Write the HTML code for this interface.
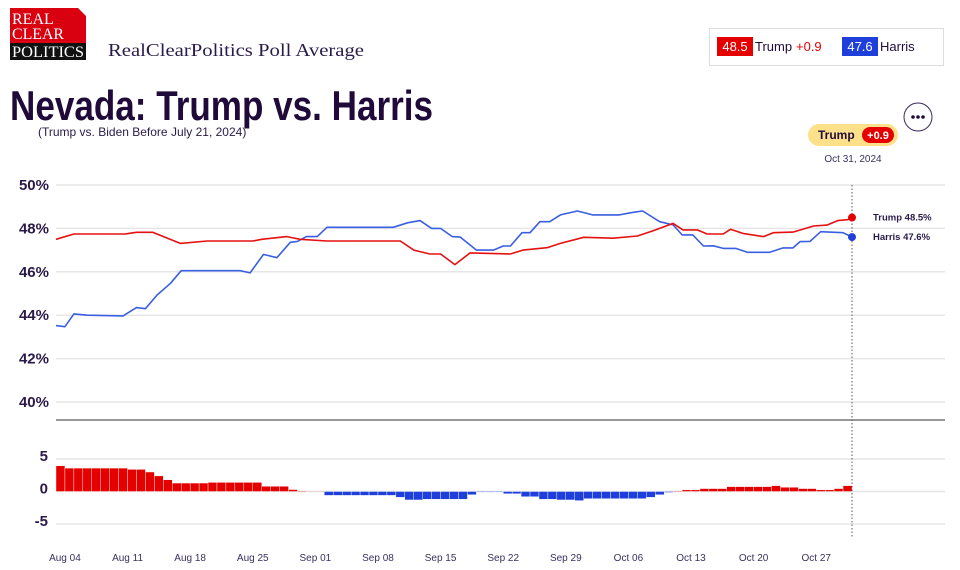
<!DOCTYPE html>
<html><head><meta charset="utf-8"><style>
html,body{margin:0;padding:0;background:#fff;width:960px;height:570px;overflow:hidden}
svg{display:block}
text{font-family:"Liberation Sans",Arial,sans-serif}
text.serif{font-family:"Liberation Serif","Times New Roman",serif}
</style></head><body>
<svg id="chart" width="960" height="570" viewBox="0 0 960 570">
  <g>
    <rect x="10" y="8" width="76" height="52" fill="#d90010"/>
    <polygon points="78,8 86,16 86,8" fill="#fff"/>
    <rect x="10" y="43" width="76" height="17" fill="#111"/>
    <text class="serif" x="12" y="24" font-size="16" fill="#fff">REAL</text>
    <text class="serif" x="12" y="39" font-size="16" fill="#fff" textLength="52" lengthAdjust="spacingAndGlyphs">CLEAR</text>
    <text class="serif" x="12" y="57" font-size="16" fill="#fff" textLength="72" lengthAdjust="spacingAndGlyphs">POLITICS</text>
  </g>
  <text class="serif" x="108" y="56" font-size="18" fill="#2a1a4a" textLength="256" lengthAdjust="spacingAndGlyphs">RealClearPolitics Poll Average</text>
  <text x="10" y="120" font-size="42" font-weight="bold" fill="#1f0a3a" textLength="423" lengthAdjust="spacingAndGlyphs">Nevada: Trump vs. Harris</text>
  <text x="38" y="136" font-size="12" fill="#2a1a4a">(Trump vs. Biden Before July 21, 2024)</text>

  <g>
    <rect x="709.5" y="28.5" width="234" height="37" fill="#fff" stroke="#ddd"/>
    <g>
      <rect x="717" y="37" width="36" height="19" fill="#e50000"/>
      <text x="735" y="51" font-size="13" fill="#fff" text-anchor="middle">48.5</text>
      <text x="755" y="51" font-size="13" fill="#1f0a3a">Trump</text>
      <text x="796" y="51" font-size="13" fill="#e50000">+0.9</text>
    </g>
    <g>
      <rect x="842" y="37" width="36" height="19" fill="#1f3fdb"/>
      <text x="860" y="51" font-size="13" fill="#fff" text-anchor="middle">47.6</text>
      <text x="880" y="51" font-size="13" fill="#1f0a3a">Harris</text>
    </g>
  </g>
  <g>
    <circle cx="918" cy="117" r="14" fill="#fff" stroke="#3a2a5a" stroke-width="1"/>
    <circle cx="913" cy="117" r="1.8" fill="#1f0a3a"/><circle cx="918" cy="117" r="1.8" fill="#1f0a3a"/><circle cx="923" cy="117" r="1.8" fill="#1f0a3a"/>
  </g>
  <g>
    <rect x="808" y="124" width="90" height="22" rx="11" fill="#fde08a"/>
    <text x="818" y="139" font-size="12" font-weight="bold" fill="#1f0a3a">Trump</text>
    <rect x="862" y="127" width="32" height="16" rx="8" fill="#e50000"/>
    <text x="878" y="139" font-size="11" font-weight="bold" fill="#fff" text-anchor="middle">+0.9</text>
  </g>
  <text x="853" y="162" font-size="10" fill="#3a3060" text-anchor="middle">Oct 31, 2024</text>
  <g id="plot"></g>
</svg>
<script>
// ---- data (day offsets from Aug 03, 2024) ----
const trumpDays = [0,2,7.7,9,10.8,13.9,16.9,22,23,25.8,27.3,30.3,38.5,40,41.8,43,44.6,46.3,50.8,52.2,54.9,56.4,59,62.3,65,66.8,69,70.1,71.7,72.8,74.6,75.4,76.8,79.1,80.2,82.4,84.7,86.2,87.4,88.5,89];
const trumpVals = [47.5,47.74,47.74,47.82,47.82,47.31,47.42,47.42,47.5,47.62,47.5,47.42,47.42,47.0,46.82,46.82,46.33,46.87,46.82,47.0,47.11,47.31,47.59,47.55,47.65,47.9,48.23,47.93,47.93,47.74,47.74,47.96,47.77,47.62,47.8,47.83,48.11,48.15,48.36,48.4,48.5];
const harrisDays = [0,1,2,3.5,7.5,9,10,11.3,12.8,14,20.6,21.7,23.2,24.7,26.2,27,28,29.2,30.3,37.7,39.3,40.7,42,43,44.3,45.2,47,48.9,50,50.8,52.1,53,54.1,55.2,56.4,58.3,60,63,64.2,65.6,67.5,69,70,71.2,72.4,73.5,74.6,76,77.3,79.8,81.3,82.4,83.2,84.3,85.5,88,89];
const harrisVals = [43.52,43.47,44.06,44.0,43.97,44.35,44.3,44.93,45.47,46.05,46.05,45.95,46.8,46.65,47.36,47.4,47.62,47.62,48.05,48.05,48.26,48.36,48.0,48.0,47.62,47.6,47.0,47.0,47.19,47.19,47.8,47.8,48.31,48.31,48.62,48.8,48.62,48.62,48.72,48.8,48.31,48.16,47.7,47.7,47.19,47.2,47.08,47.08,46.9,46.9,47.1,47.1,47.39,47.4,47.85,47.8,47.6];
const spreadVals = [3.95,3.6,3.6,3.6,3.6,3.6,3.6,3.6,3.4,3.4,3.0,2.4,1.8,1.3,1.3,1.3,1.3,1.4,1.4,1.4,1.4,1.4,1.4,0.8,0.8,0.8,0.3,0.1,0,0,-0.6,-0.6,-0.6,-0.6,-0.6,-0.6,-0.6,-0.6,-0.9,-1.3,-1.3,-1.2,-1.2,-1.2,-1.2,-1.2,-0.5,-0.1,-0.1,-0.1,-0.35,-0.35,-0.8,-0.8,-1.2,-1.2,-1.3,-1.3,-1.4,-1.1,-1.1,-1.1,-1.1,-1.1,-1.1,-1.1,-0.9,-0.5,-0.15,0.1,0.25,0.25,0.45,0.45,0.45,0.75,0.75,0.75,0.75,0.75,0.9,0.65,0.65,0.45,0.45,0.25,0.25,0.45,0.9];
const yTicks = [40,42,44,46,48,50];
const spreadTicks = [5,0,-5];
const xTickLabels = ["Aug 04","Aug 11","Aug 18","Aug 25","Sep 01","Sep 08","Sep 15","Sep 22","Sep 29","Oct 06","Oct 13","Oct 20","Oct 27"];
const xTickDays = [1,8,15,22,29,36,43,50,57,64,71,78,85];
const endDay = 89;

// ---- scales ----
const X0=56, X1=945, DAYPX=8.944;
const xs = d => X0 + d*DAYPX;
const ys = v => 185 + (50-v)*21.7;
const ss = v => 491.5 - v*6.5;
const NS="http://www.w3.org/2000/svg";
const plot=document.getElementById('plot');
function mk(tag,attrs,parent){const e=document.createElementNS(NS,tag);for(const k in attrs)e.setAttribute(k,attrs[k]);(parent||plot).appendChild(e);return e;}

yTicks.forEach(t=>{
  const g=mk('line',{x1:X0,x2:X1,y1:ys(t),y2:ys(t),stroke:'#e6e6e6','stroke-width':1.5});
  
  
  const l=mk('text',{x:49,y:ys(t)+5,'text-anchor':'end','font-size':15,'font-weight':'bold',fill:'#2a1a4a'});
  l.textContent=t+'%';
  
  
});
const sep=mk('line',{x1:X0,x2:X1,y1:420,y2:420,stroke:'#777','stroke-width':1.5});


spreadTicks.forEach(t=>{
  const g=mk('line',{x1:X0,x2:X1,y1:ss(t),y2:ss(t),stroke:'#e6e6e6','stroke-width':1.5});
  
  
  const l=mk('text',{x:48,y:ss(t)+2,'text-anchor':'end','font-size':15,'font-weight':'bold',fill:'#2a1a4a'});
  l.textContent=String(t);
  
  
});

// spread bars
spreadVals.forEach((v,i)=>{
  const h=Math.max(Math.abs(ss(v)-ss(0)),0.8);
  const b=mk('rect',{x:xs(i),y:v>=0?ss(0)-h:ss(0),width:DAYPX,height:h,fill:v>=0?'#e50000':'#1f3fdb',stroke:'#fff','stroke-width':0.4,opacity:v===0?0.3:1});
  
  
});

// lines
function line(days,vals,color,name){
  const d=days.map((dd,i)=>(i?'L':'M')+xs(dd).toFixed(1)+','+ys(vals[i]).toFixed(1)).join(' ');
  const p=mk('path',{d:d,fill:'none',stroke:color,'stroke-width':1.6,'stroke-linejoin':'round'});
  
  
}
line(harrisDays,harrisVals,'#3a5fe0','harris-line');
line(trumpDays,trumpVals,'#e51010','trump-line');

// hover line
const hl=mk('line',{x1:xs(endDay),x2:xs(endDay),y1:185,y2:537,stroke:'#555','stroke-width':1,'stroke-dasharray':'1.5,2'});



const tLast=trumpVals[trumpVals.length-1], hLast=harrisVals[harrisVals.length-1];
const td=mk('circle',{cx:xs(endDay),cy:ys(tLast),r:4,fill:'#e50000'});


const hd=mk('circle',{cx:xs(endDay),cy:ys(hLast),r:4,fill:'#1f3fdb'});


const tl=mk('text',{x:873,y:ys(tLast)+3,'font-size':9.5,'font-weight':'bold',fill:'#2a1a4a'});
tl.textContent='Trump '+tLast.toFixed(1)+'%';


const hlb=mk('text',{x:873,y:ys(hLast)+3,'font-size':9.5,'font-weight':'bold',fill:'#2a1a4a'});
hlb.textContent='Harris '+hLast.toFixed(1)+'%';



xTickLabels.forEach((lab,i)=>{
  const t=mk('text',{x:xs(xTickDays[i]),y:561,'text-anchor':'middle','font-size':10,fill:'#3a3060'});
  t.textContent=lab;
  
  
});
</script>
</body></html>
